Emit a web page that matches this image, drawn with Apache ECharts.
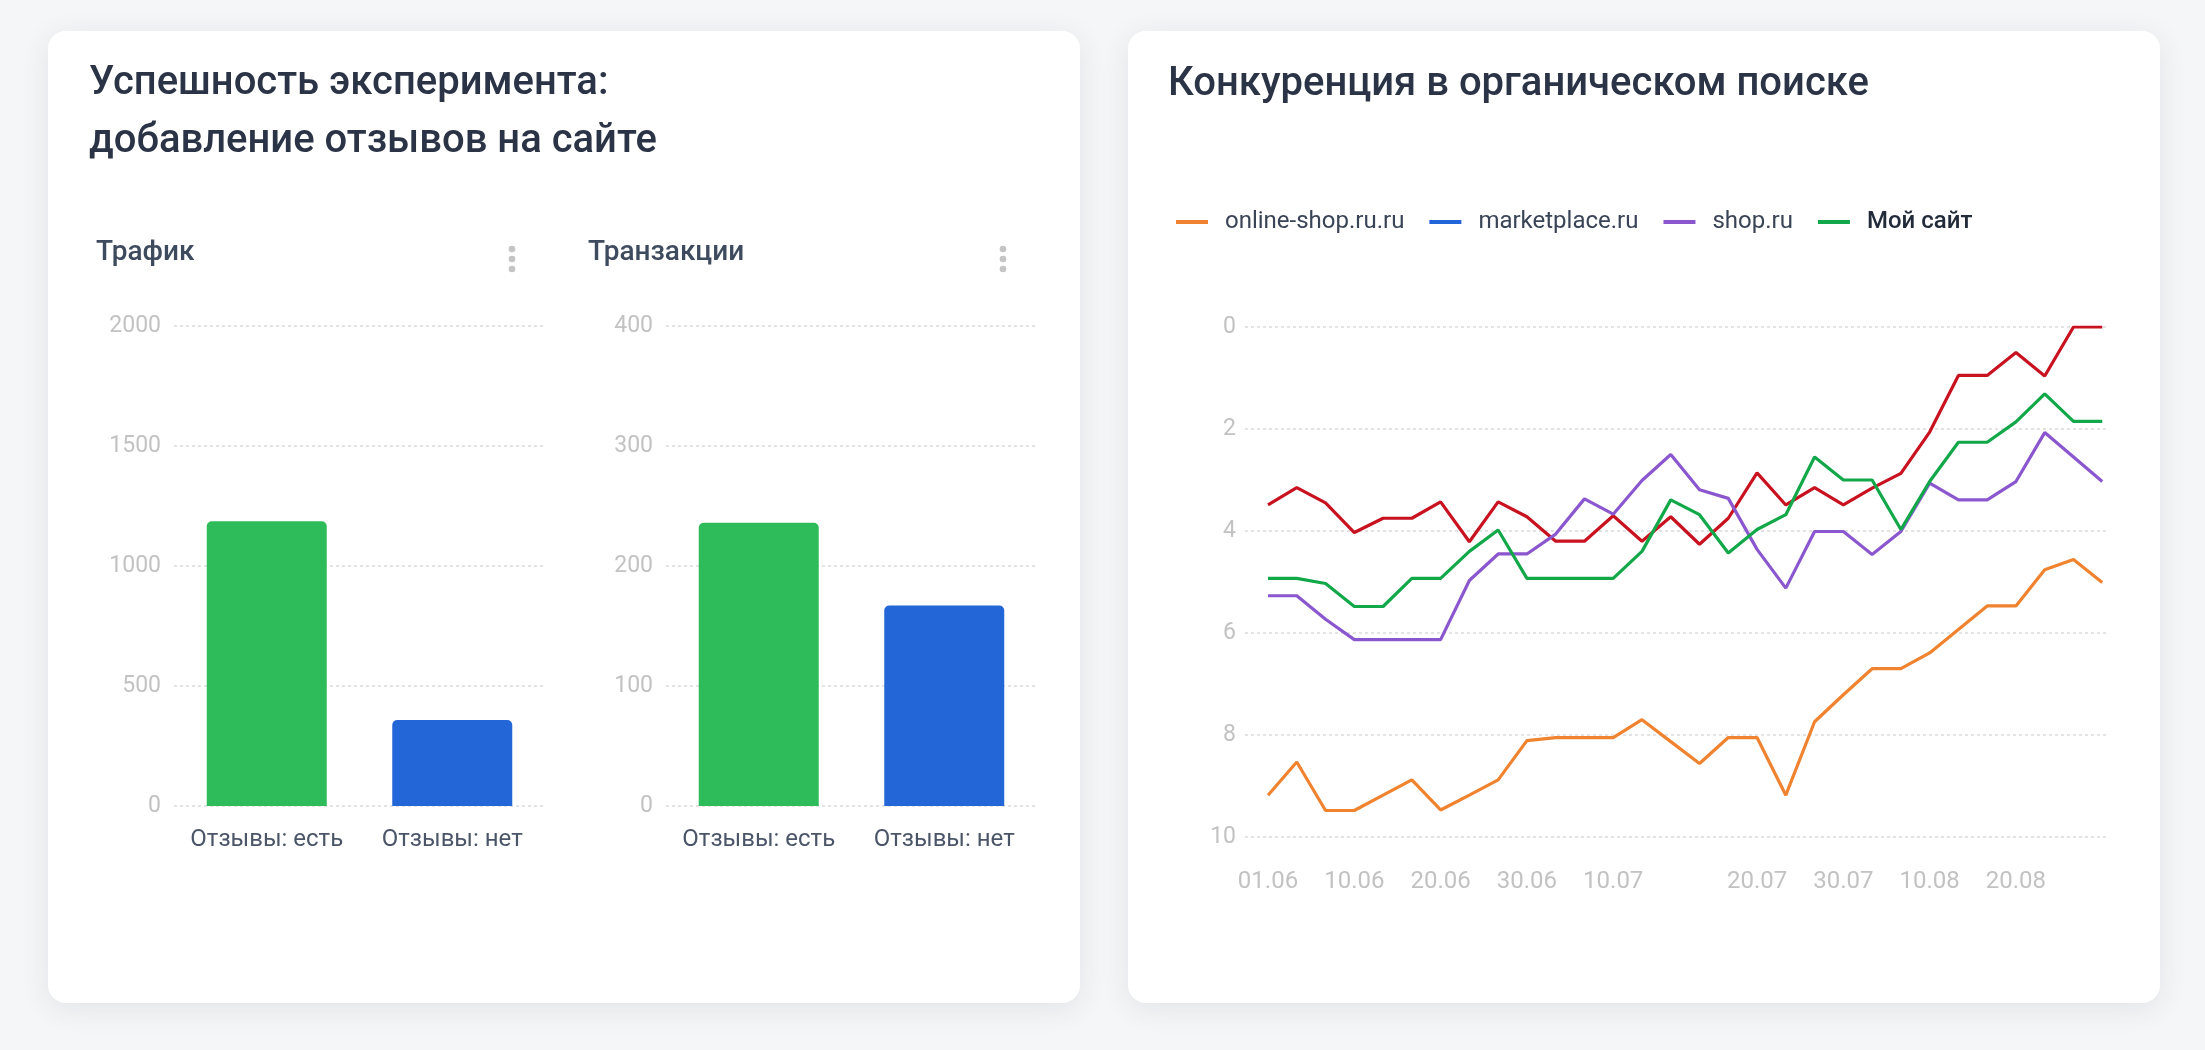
<!DOCTYPE html>
<html>
<head>
<meta charset="utf-8">
<title>Эксперимент и конкуренция</title>
<script src="https://cdn.jsdelivr.net/npm/echarts@6/dist/echarts.min.js"></script>
<style>
  html, body { margin: 0; padding: 0; background: #f5f6f8; }
  .card {
    position: absolute;
    top: 31px;
    width: 1032px;
    height: 972px;
    background: #fff;
    border-radius: 18px;
    box-shadow: 0 6px 30px rgba(30, 40, 60, 0.09);
  }
  #chart { position: absolute; left: 0; top: 0; width: 2205px; height: 1050px; }
</style>
</head>
<body>
<div class="card" style="left: 48px;"></div>
<div class="card" style="left: 1128px;"></div>
<div id="chart"></div>
<script>
// bar charts
const barCategories = ['Отзывы: есть', 'Отзывы: нет']
const trafficValues = [1186, 358]
const transactionValues = [236, 167]
const trafficMax = 2000
const transactionMax = 400
const barColors = ['#2ebb59', '#2266d8']

// line chart: position in organic search
const dates = ['01.06', '04.06', '07.06', '10.06', '13.06', '16.06', '20.06', '23.06', '26.06', '30.06',
  '03.07', '06.07', '10.07', '12.07', '14.07', '16.07', '18.07', '20.07', '23.07', '26.07',
  '30.07', '03.08', '06.08', '10.08', '13.08', '16.08', '20.08', '23.08', '26.08', '29.08']
const onlineShop = [9.18, 8.53, 9.48, 9.48, 9.18, 8.88, 9.47, 9.18, 8.88, 8.11,
  8.05, 8.05, 8.05, 7.7, 8.13, 8.56, 8.05, 8.05, 9.18, 7.74,
  7.21, 6.7, 6.7, 6.39, 5.93, 5.47, 5.47, 4.76, 4.56, 5.01]
const marketplace = [3.49, 3.15, 3.45, 4.03, 3.75, 3.75, 3.43, 4.21, 3.43, 3.72,
  4.2, 4.2, 3.7, 4.2, 3.72, 4.26, 3.75, 2.86, 3.49, 3.15,
  3.49, 3.16, 2.87, 2.06, 0.95, 0.95, 0.5, 0.96, 0, 0]
const shop = [5.27, 5.27, 5.73, 6.13, 6.13, 6.13, 6.13, 4.97, 4.45, 4.45,
  4.06, 3.37, 3.67, 3.01, 2.5, 3.19, 3.36, 4.36, 5.12, 4.01,
  4.01, 4.46, 4.01, 3.06, 3.39, 3.39, 3.03, 2.07, 2.55, 3.03]
const mySite = [4.93, 4.93, 5.03, 5.48, 5.48, 4.93, 4.93, 4.4, 3.98, 4.93,
  4.93, 4.93, 4.93, 4.4, 3.39, 3.68, 4.43, 3.97, 3.68, 2.55,
  3.0, 3.0, 3.97, 3.03, 2.26, 2.26, 1.86, 1.31, 1.85, 1.85]
const seriesNames = ['online-shop.ru.ru', 'marketplace.ru', 'shop.ru', 'Мой сайт']
const lineColors = ['#f0832f', '#c8121f', '#8b57cf', '#12a84a']
const legendColors = ['#f0832f', '#2265d8', '#8b57cf', '#12a84a']

// labels only on the 1st, 10th, 20th and 30th of a month
const labelIdx = []
dates.forEach(function (d, i) {
  if (['01', '10', '20', '30'].indexOf(d.slice(0, 2)) >= 0) labelIdx.push(i)
})

const dashLine = { color: '#dadada', width: 1.5, type: [3, 3] }

function barAxis (gridIndex) {
  return {
    type: 'category',
    gridIndex: gridIndex,
    data: barCategories,
    axisLine: { show: false },
    axisTick: { show: false },
    axisLabel: { color: '#4a5568', fontSize: 24, margin: 12, interval: 0 }
  }
}

function barValueAxis (gridIndex, max) {
  // a little below zero so the bars run past the 0 line like in the original
  return {
    type: 'value',
    gridIndex: gridIndex,
    min: -max / 48,
    max: max,
    minInterval: max / 4,
    maxInterval: max / 4,
    axisLabel: {
      color: '#c2c2c2',
      fontSize: 23,
      margin: 13,
      showMinLabel: false,
      formatter: function (v) { return String(Math.round(v)) }
    },
    splitLine: { show: true, showMinLine: false, lineStyle: dashLine }
  }
}

function barData (values) {
  return values.map(function (v, i) {
    return { value: v, itemStyle: { color: barColors[i] } }
  })
}

const titleText = { fontFamily: 'Roboto', fontWeight: 500 }

let myChart = echarts.init(document.getElementById('chart'))

let option = {
  animation: false,
  textStyle: { fontFamily: 'Roboto' },
  title: [
    {
      text: 'Успешность эксперимента:\nдобавление отзывов на сайте',
      left: 89, top: 55, padding: 0,
      textStyle: Object.assign({ fontSize: 40, lineHeight: 58, color: '#2b3446' }, titleText)
    },
    {
      text: 'Трафик', left: 96, top: 238, padding: 0,
      textStyle: Object.assign({ fontSize: 28, lineHeight: 30, color: '#3e4a5e' }, titleText)
    },
    {
      text: 'Транзакции', left: 588, top: 238, padding: 0,
      textStyle: Object.assign({ fontSize: 28, lineHeight: 30, color: '#3e4a5e' }, titleText)
    },
    {
      text: 'Конкуренция в органическом поиске',
      left: 1168, top: 56, padding: 0,
      textStyle: Object.assign({ fontSize: 40, lineHeight: 58, color: '#2b3446' }, titleText)
    }
  ],
  legend: {
    left: 1176,
    top: 208,
    padding: 0,
    icon: 'rect',
    itemWidth: 32,
    itemHeight: 4,
    itemGap: 25,
    textStyle: { fontSize: 24, lineHeight: 28, color: '#3a4457', padding: [0, 0, 0, 12] },
    data: seriesNames.map(function (n, i) {
      let item = { name: n, itemStyle: { color: legendColors[i] } }
      if (i === 3) item.textStyle = { color: '#222b3a', fontWeight: 500 }
      return item
    })
  },
  grid: [
    { left: 174, top: 326, width: 371, height: 490 },
    { left: 666, top: 326, width: 371, height: 490 },
    { left: 1245, top: 327, width: 863, height: 510 }
  ],
  xAxis: [
    barAxis(0),
    barAxis(1),
    {
      type: 'value',
      gridIndex: 2,
      min: -0.8,
      max: dates.length - 0.8,
      splitLine: { show: false },
      axisLine: { show: false },
      axisTick: { show: false },
      axisLabel: {
        color: '#c2c2c2',
        fontSize: 24,
        margin: 33,
        customValues: labelIdx,
        formatter: function (v) { return dates[v] }
      }
    }
  ],
  yAxis: [
    barValueAxis(0, trafficMax),
    barValueAxis(1, transactionMax),
    {
      type: 'value',
      gridIndex: 2,
      inverse: true,
      min: 0,
      max: 10,
      interval: 2,
      axisLine: { show: false },
      axisTick: { show: false },
      axisLabel: { color: '#c2c2c2', fontSize: 23, margin: 9 },
      splitLine: { lineStyle: dashLine }
    }
  ],
  series: [
    {
      type: 'bar', xAxisIndex: 0, yAxisIndex: 0, barWidth: 120,
      itemStyle: { borderRadius: [5, 5, 0, 0] },
      data: barData(trafficValues)
    },
    {
      type: 'bar', xAxisIndex: 1, yAxisIndex: 1, barWidth: 120,
      itemStyle: { borderRadius: [5, 5, 0, 0] },
      data: barData(transactionValues)
    }
  ].concat([onlineShop, marketplace, shop, mySite].map(function (vals, k) {
    return {
      name: seriesNames[k],
      type: 'line',
      xAxisIndex: 2,
      yAxisIndex: 2,
      symbol: 'none',
      color: legendColors[k],
      lineStyle: { color: lineColors[k], width: 3.2 },
      data: vals.map(function (v, i) { return [i, v] })
    }
  })),
  // the "more" menu dots next to the small chart titles
  graphic: [512, 1003].reduce(function (acc, x) {
    [249, 259, 269].forEach(function (y) {
      acc.push({ type: 'circle', shape: { cx: x, cy: y, r: 3.3 }, style: { fill: '#c4c4c4' } })
    })
    return acc
  }, [])
}

myChart.setOption(option)
</script>
</body>
</html>
